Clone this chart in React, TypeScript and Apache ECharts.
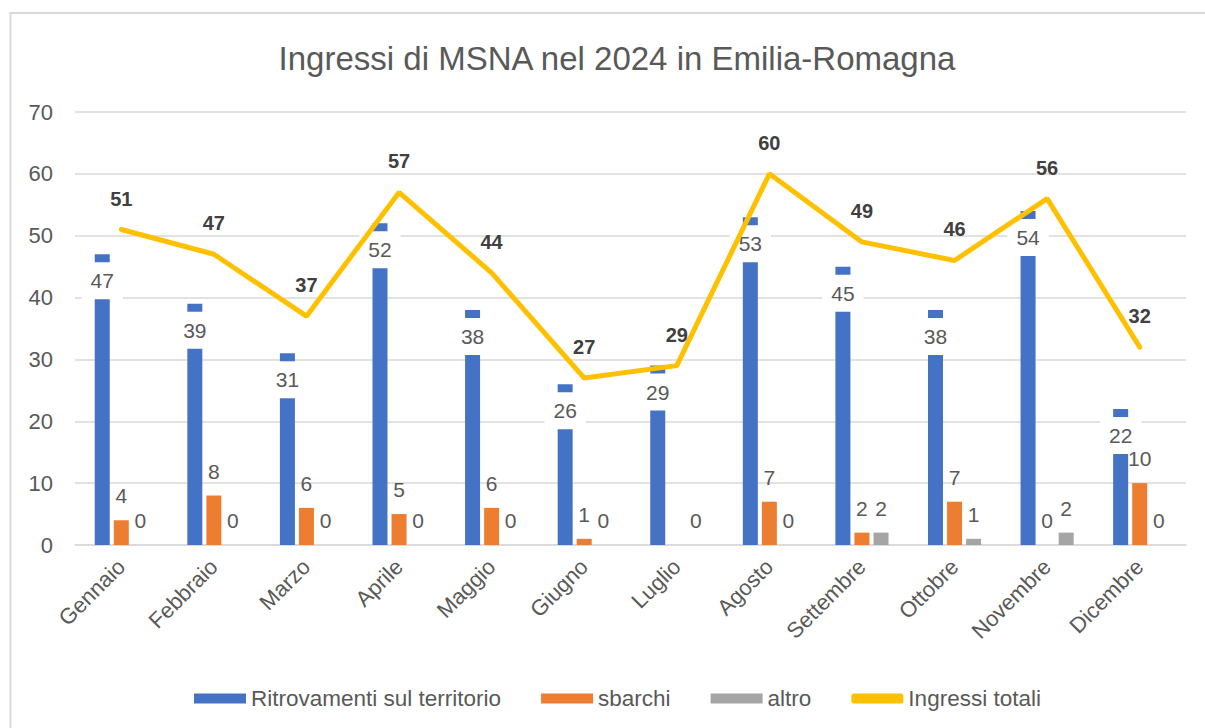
import React, { useEffect, useRef } from "react";
import * as echarts from "echarts";

const months = [
  "Gennaio", "Febbraio", "Marzo", "Aprile", "Maggio", "Giugno",
  "Luglio", "Agosto", "Settembre", "Ottobre", "Novembre", "Dicembre",
];
const ritrovamenti = [47, 39, 31, 52, 38, 26, 29, 53, 45, 38, 54, 22];
const sbarchi: (number | null)[] = [4, 8, 6, 5, 6, 1, null, 7, 2, 7, 0, 10];
const altro = [0, 0, 0, 0, 0, 0, 0, 0, 2, 1, 2, 0];
const totali = [51, 47, 37, 57, 44, 27, 29, 60, 49, 46, 56, 32];

const FONT = "'Liberation Sans', Arial, sans-serif";
const GREY = "#595959";

export default function App() {
  const ref = useRef<HTMLDivElement>(null);
  useEffect(() => {
    if (!ref.current) return;
    const chart = echarts.init(ref.current, null, { renderer: "svg" });
    const smallLabel = {
      show: true,
      position: "top",
      distance: 14,
      fontFamily: FONT,
      fontSize: 21,
      color: GREY,
    };
    chart.setOption({
      animation: false,
      backgroundColor: "#ffffff",
      textStyle: { fontFamily: FONT },
      graphic: [
        {
          type: "rect",
          shape: { x: 10.5, y: 13, width: 1210, height: 740 },
          style: { fill: "none", stroke: "#d9d9d9", lineWidth: 2 },
          silent: true,
        },
      ],
      title: {
        text: "Ingressi di MSNA nel 2024 in Emilia-Romagna",
        left: 612,
        textAlign: "center",
        top: 37,
        textStyle: {
          fontFamily: FONT,
          fontSize: 33,
          fontWeight: "normal",
          color: GREY,
        },
      },
      legend: {
        left: 189,
        top: 682,
        itemWidth: 52,
        itemHeight: 10,
        itemGap: 40,
        icon: "rect",
        textStyle: { fontFamily: FONT, fontSize: 22.5, color: GREY },
        data: [
          { name: "Ritrovamenti sul territorio" },
          { name: "sbarchi" },
          { name: "altro" },
          { name: "Ingressi totali", icon: "roundRect", itemStyle: { color: "#FFC000" } },
        ],
      },
      grid: { left: 75, right: 19, top: 112, bottom: 183, containLabel: false },
      xAxis: {
        type: "category",
        data: months,
        axisLine: { lineStyle: { color: "#d9d9d9", width: 1.5 } },
        axisTick: { show: false },
        axisLabel: {
          interval: 0,
          rotate: 45,
          margin: 18,
          fontFamily: FONT,
          fontSize: 22,
          color: GREY,
        },
      },
      yAxis: {
        type: "value",
        min: 0,
        max: 70,
        interval: 10,
        axisLine: { show: false },
        axisTick: { show: false },
        splitLine: { lineStyle: { color: "#d9d9d9", width: 1.5 } },
        axisLabel: { margin: 22, fontFamily: FONT, fontSize: 22, color: GREY },
      },
      series: [
        {
          name: "Ritrovamenti sul territorio",
          type: "bar",
          data: ritrovamenti,
          barWidth: 15,
          barGap: "27%",
          itemStyle: { color: "#4472C4" },
          label: {
            show: true,
            position: "insideTop",
            distance: 8,
            fontFamily: FONT,
            fontSize: 21,
            color: GREY,
            backgroundColor: "#ffffff",
            padding: [8, 9, 8, 9],
          },
        },
        {
          name: "sbarchi",
          type: "bar",
          data: sbarchi,
          barWidth: 15,
          barGap: "27%",
          itemStyle: { color: "#ED7D31" },
          label: smallLabel,
        },
        {
          name: "altro",
          type: "bar",
          data: altro,
          barWidth: 15,
          barGap: "27%",
          itemStyle: { color: "#A5A5A5" },
          label: smallLabel,
        },
        {
          name: "Ingressi totali",
          type: "line",
          data: totali,
          symbol: "circle",
          symbolSize: 0.01,
          showSymbol: true,
          lineStyle: { color: "#FFC000", width: 5, cap: "round" },
          itemStyle: { color: "#FFC000" },
          label: {
            show: true,
            position: "top",
            distance: 21,
            fontFamily: FONT,
            fontSize: 20,
            fontWeight: "bold",
            color: "#404040",
          },
        },
      ],
    });
    return () => chart.dispose();
  }, []);
  return (
    <div
      ref={ref}
      style={{ position: "fixed", left: 0, top: 0, width: 1205, height: 728 }}
    />
  );
}
